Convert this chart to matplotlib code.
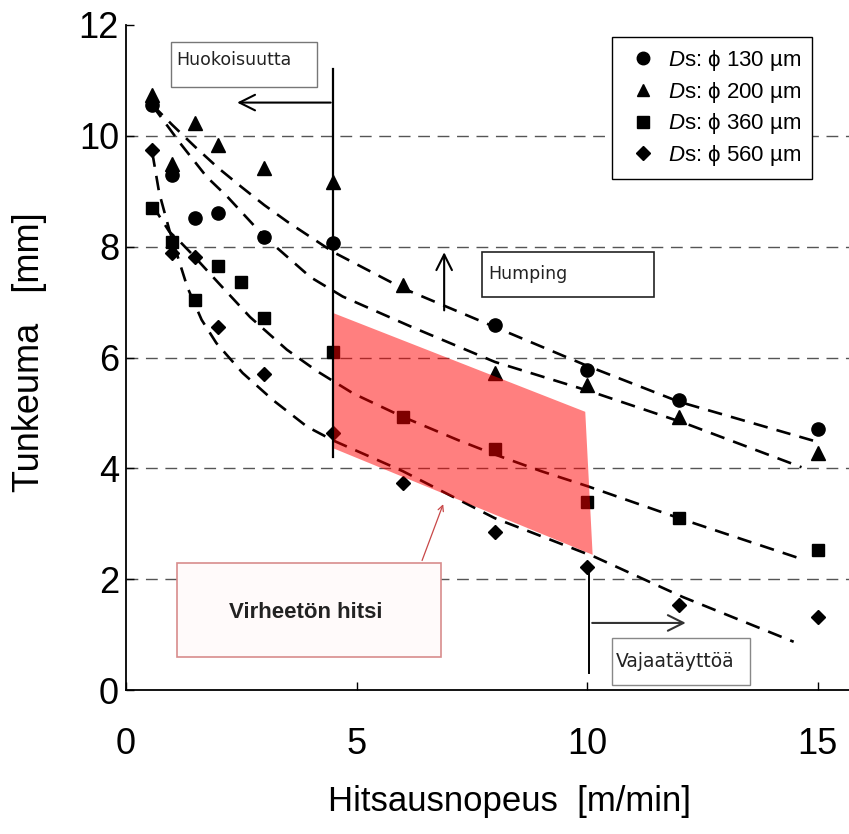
import numpy as np
import matplotlib.pyplot as plt
from matplotlib.patches import Rectangle, Polygon
from matplotlib.lines import Line2D

plt.rcParams['font.family'] = 'Liberation Sans'
plt.rcParams['mathtext.fontset'] = 'custom'
plt.rcParams['mathtext.it'] = 'Liberation Sans:italic'
plt.rcParams['mathtext.rm'] = 'Liberation Sans'

# measured points (welding speed m/min, penetration mm)
x_130 = [0.57, 1.0, 1.5, 2.0, 3.0, 4.5, 8.0, 10.0, 12.0, 15.0]
y_130 = [10.56, 9.3, 8.52, 8.6, 8.18, 8.07, 6.59, 5.78, 5.23, 4.71]
x_200 = [0.57, 1.0, 1.5, 2.0, 3.0, 4.5, 6.0, 8.0, 10.0, 12.0, 15.0]
y_200 = [10.74, 9.5, 10.23, 9.84, 9.42, 9.17, 7.31, 5.72, 5.5, 4.93, 4.28]
x_360 = [0.57, 1.0, 1.5, 2.0, 2.5, 3.0, 4.5, 6.0, 8.0, 10.0, 12.0, 15.0]
y_360 = [8.7, 8.09, 7.04, 7.65, 7.36, 6.71, 6.1, 4.93, 4.35, 3.39, 3.1, 2.53]
x_560 = [0.57, 1.0, 1.5, 2.0, 3.0, 4.5, 6.0, 8.0, 10.0, 12.0, 15.0]
y_560 = [9.75, 7.89, 7.82, 6.55, 5.7, 4.64, 3.74, 2.85, 2.22, 1.53, 1.32]

# dashed trend lines
fx_130 = [0.57, 1.0, 1.5, 2.0, 2.5, 3.0, 3.5, 4.5, 6.0, 8.0, 10.0, 12.0, 14.9]
fy_130 = [10.56, 10.2, 9.8, 9.42, 9.08, 8.75, 8.45, 7.9, 7.25, 6.55, 5.85, 5.2, 4.5]
fx_200 = [0.57, 1.2, 1.75, 2.2, 3.0, 4.0, 4.7, 6.2, 8.0, 10.1, 12.1, 14.65]
fy_200 = [10.55, 9.84, 9.26, 8.9, 8.18, 7.45, 7.1, 6.55, 5.92, 5.38, 4.82, 4.02]
fx_360 = [0.57, 0.94, 1.16, 1.45, 2.0, 2.69, 3.49, 4.15, 4.93, 6.0, 7.2, 8.0, 9.0, 10.0, 12.1, 14.7]
fy_360 = [8.75, 8.27, 8.1, 7.85, 7.35, 6.73, 6.14, 5.75, 5.35, 4.93, 4.51, 4.25, 3.95, 3.68, 3.07, 2.35]
fx_560 = [0.57, 0.72, 0.94, 1.33, 1.64, 1.96, 2.53, 3.19, 3.93, 4.5, 6.0, 8.0, 10.17, 12.07, 14.48]
fy_560 = [9.7, 8.97, 8.3, 7.27, 6.68, 6.26, 5.72, 5.23, 4.75, 4.5, 3.95, 3.1, 2.4, 1.68, 0.87]

# defect-free window (red area)
window_x = [4.5, 9.96, 10.12, 4.5]
window_y = [6.8, 5.02, 2.44, 4.36]

labels = [r'$D$s: ϕ 130 µm', r'$D$s: ϕ 200 µm', r'$D$s: ϕ 360 µm', r'$D$s: ϕ 560 µm']

fig = plt.figure(figsize=(8.49, 8.34), dpi=100)
ax = fig.add_axes([126 / 849, 144 / 834, 723 / 849, 665 / 834])
ax.set_xlim(0, 15.68)
ax.set_ylim(0, 12)

# gridlines
for yv in [2, 4, 6, 8, 10]:
    ax.axhline(yv, color='#555555', lw=1.0, dashes=(8.5, 5.5), zorder=1)

dash = dict(color='black', lw=1.9, dashes=(5.5, 3.5), zorder=2)
ax.plot(fx_130, fy_130, **dash)
ax.plot(fx_200, fy_200, **dash)
ax.plot(fx_360, fy_360, **dash)
ax.plot(fx_560, fy_560, **dash)

ax.plot(x_130, y_130, 'o', color='black', ms=9.5, ls='none', zorder=3)
ax.plot(x_200, y_200, '^', color='black', ms=9.5, ls='none', zorder=3)
ax.plot(x_360, y_360, 's', color='black', ms=9, ls='none', zorder=3)
ax.plot(x_560, y_560, 'D', color='black', ms=7.5, ls='none', zorder=3)

ax.add_patch(Polygon(list(zip(window_x, window_y)), closed=True,
                     facecolor='red', alpha=0.5, edgecolor='none', zorder=4))

# limit lines and arrows
ax.plot([4.5, 4.5], [4.2, 11.2], color='black', lw=1.6, zorder=5)
ax.annotate('', xy=(2.35, 10.6), xytext=(4.5, 10.6),
            arrowprops=dict(arrowstyle='->', lw=1.5, color='black',
                            mutation_scale=28), zorder=5)
ax.annotate('', xy=(6.9, 7.95), xytext=(6.9, 6.8),
            arrowprops=dict(arrowstyle='->', lw=1.5, color='black',
                            mutation_scale=28), zorder=5)
ax.plot([10.05, 10.05], [0.3, 2.3], color='black', lw=1.4, zorder=5)
ax.annotate('', xy=(12.2, 1.21), xytext=(10.05, 1.21),
            arrowprops=dict(arrowstyle='->', lw=1.5, color='#333333',
                            mutation_scale=28), zorder=5)
ax.annotate('', xy=(6.9, 3.4), xytext=(6.4, 2.29),
            arrowprops=dict(arrowstyle='->', lw=0.9, color='#C84848',
                            mutation_scale=10), zorder=5)

# text boxes
ann_font = dict(family='DejaVu Sans', color='#222222')
ax.add_patch(Rectangle((0.98, 10.88), 3.17, 0.82, facecolor='white',
                       edgecolor='#777777', lw=1.0, zorder=5))
ax.text(1.1, 11.36, 'Huokoisuutta', va='center', ha='left', zorder=6,
        fontsize=12.5, **ann_font)
ax.add_patch(Rectangle((7.71, 7.09), 3.75, 0.81, facecolor='white',
                       edgecolor='#222222', lw=1.2, zorder=5))
ax.text(7.85, 7.5, 'Humping', va='center', ha='left', zorder=6,
        fontsize=12.5, **ann_font)
ax.add_patch(Rectangle((10.55, 0.09), 2.99, 0.85, facecolor='white',
                       edgecolor='#888888', lw=1.0, zorder=5))
ax.text(10.63, 0.52, 'Vajaatäyttöä', va='center', ha='left', zorder=6,
        fontsize=13.5, **ann_font)
ax.add_patch(Rectangle((1.11, 0.6), 5.72, 1.69, facecolor='#FFFAFA',
                       edgecolor='#D88C8C', lw=1.2, zorder=5))
ax.text(3.9, 1.39, 'Virheetön hitsi', va='center', ha='center', zorder=6,
        fontsize=16, fontweight='bold', color='#222222')

# axes styling
ax.spines['top'].set_visible(False)
ax.spines['right'].set_visible(False)
ax.spines['left'].set_linewidth(1.3)
ax.spines['bottom'].set_linewidth(1.3)
ax.set_xticks([0, 5, 10, 15])
ax.set_yticks([0, 2, 4, 6, 8, 10, 12])
ax.tick_params(direction='in', length=6, width=1.0, labelsize=26)
ax.tick_params(axis='x', pad=27)
ax.tick_params(axis='y', pad=5)
ax.set_xlabel('Hitsausnopeus  [m/min]', fontsize=25)
ax.xaxis.label.set_va('center')
ax.xaxis.set_label_coords((510 - 126) / 723, -0.167)
ax.set_ylabel('Tunkeuma   [mm]', fontsize=26)
ax.yaxis.label.set_va('center')
ax.yaxis.set_label_coords((30 - 126) / 723, (690 - 352) / 665)

handles = [Line2D([], [], marker='o', color='black', ls='none', ms=9),
           Line2D([], [], marker='^', color='black', ls='none', ms=9),
           Line2D([], [], marker='s', color='black', ls='none', ms=8.5),
           Line2D([], [], marker='D', color='black', ls='none', ms=7)]
leg = ax.legend(handles, labels, loc='upper left',
                bbox_to_anchor=(612 / 849, 1 - 37 / 834),
                bbox_transform=fig.transFigure, borderaxespad=0,
                fontsize=16, fancybox=False, framealpha=1, edgecolor='black',
                handlelength=1.8, handletextpad=0.2, labelspacing=0.3,
                borderpad=0.5)
leg.get_frame().set_linewidth(1.0)
leg.set_zorder(7)

fig.savefig('out.png', dpi=100, facecolor='white')
